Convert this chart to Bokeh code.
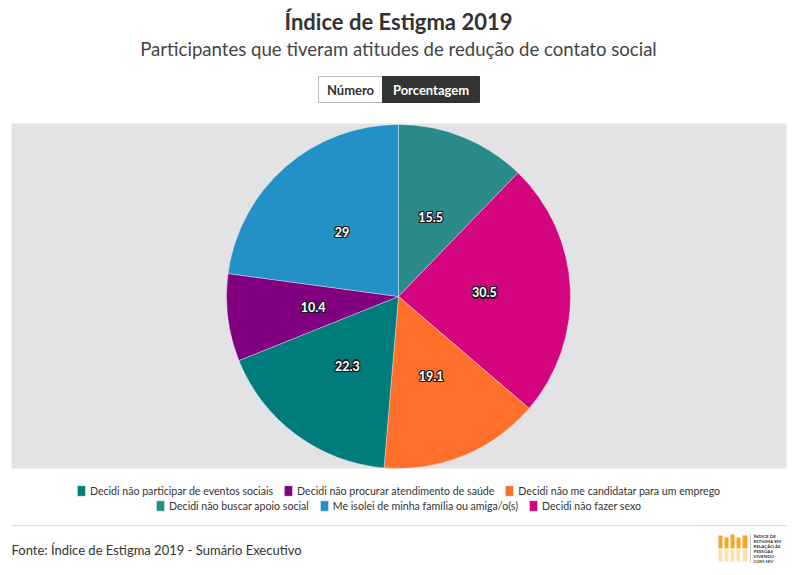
import math
from bokeh.plotting import figure
from bokeh.models import Range1d, ColumnDataSource, Legend, LegendItem
from bokeh.core.properties import value
from bokeh.embed import file_html
from bokeh.resources import INLINE

# ---------------- data ----------------
categories = [
    "Decidi não buscar apoio social",
    "Decidi não fazer sexo",
    "Decidi não me candidatar para um emprego",
    "Decidi não participar de eventos sociais",
    "Decidi não procurar atendimento de saúde",
    "Me isolei de minha família ou amiga/o(s)",
]
values = [15.5, 30.5, 19.1, 22.3, 10.4, 29]
colors = ["#2a8a8a", "#d4047f", "#fd6f2b", "#007c7c", "#800080", "#2390c6"]
legend_row1 = [3, 4, 2]
legend_row2 = [0, 5, 1]

title = "Índice de Estigma 2019"
subtitle = "Participantes que tiveram atitudes de redução de contato social"
buttons = ["Número", "Porcentagem"]
source_text = "Fonte: Índice de Estigma 2019 - Sumário Executivo"

# ---------------- layout (pixels) ----------------
W, H = 796, 575
FONT = "Lato"


def Y(py):
    return H - py


cx, cy, R = 398, 296, 172

p = figure(width=W, height=H, output_backend="svg", toolbar_location=None,
           x_range=Range1d(0, W), y_range=Range1d(0, H),
           min_border=0, outline_line_color=None, background_fill_color="white",
           border_fill_color="white")
p.axis.visible = False
p.grid.visible = False

# plot area background
p.quad(left=[11], right=[786], bottom=[Y(468)], top=[Y(123)],
       fill_color="#e3e3e5", line_color=None)

# pie
total = sum(values)
starts, ends, lx, ly, labels = [], [], [], [], []
cum = 0.0
for v in values:
    a0 = math.pi / 2 - 2 * math.pi * cum / total
    cum += v
    a1 = math.pi / 2 - 2 * math.pi * cum / total
    starts.append(a0)
    ends.append(a1)
    mid = (a0 + a1) / 2
    lx.append(cx + 0.5 * R * math.cos(mid))
    ly.append(Y(cy) + 0.5 * R * math.sin(mid))
    labels.append(("%g" % v))

src = ColumnDataSource(dict(start=starts, end=ends, color=colors, cat=categories,
                            x=[cx] * len(values), y=[Y(cy)] * len(values),
                            lx=lx, ly=ly, label=labels))
wr = p.wedge(x="x", y="y", radius=R, start_angle="start", end_angle="end",
             direction="clock", fill_color="color", line_color="white",
             line_width=0.6, line_alpha=0.6, source=src)

# label halo (dark) then white text
label_style = dict(text_align="center", text_baseline="middle",
                   text_font=value(FONT), text_font_style="bold", text_font_size="12.5px")
for dx, dy in ((-1.2, 0), (1.2, 0), (0, -1.2), (0, 1.2),
               (-1, -1), (1, 1), (-1, 1), (1, -1)):
    p.text(x=[v + dx for v in lx], y=[v + dy for v in ly], text=labels,
           text_color="#1a1a1a", **label_style)
p.text(x="lx", y="ly", text="label", source=src, text_color="white", **label_style)

# title and subtitle
p.text(x=[W / 2], y=[Y(21)], text=[title], text_align="center", text_baseline="middle",
       text_font=value(FONT), text_font_style="bold", text_font_size="22px",
       text_color="#333333")
p.text(x=[W / 2], y=[Y(48)], text=[subtitle], text_align="center", text_baseline="middle",
       text_font=value(FONT), text_font_size="18.6px", text_color="#444444")

# buttons
p.quad(left=[318], right=[382], bottom=[Y(102)], top=[Y(76)], fill_color="white",
       line_color="#bbbbbb", line_width=1)
p.quad(left=[382], right=[479], bottom=[Y(102)], top=[Y(76)], fill_color="#333333",
       line_color="#333333", line_width=1)
p.text(x=[350, 430.5], y=[Y(89), Y(89)], text=buttons, text_align="center",
       text_baseline="middle", text_font=value(FONT), text_font_style="bold",
       text_font_size="13px", text_color=["#333333", "white"])

# legends (two centered rows)
for row, margin in ((legend_row1, 78), (legend_row2, 63)):
    items = [LegendItem(label=categories[i], renderers=[wr], index=i) for i in row]
    lg = Legend(items=items, orientation="horizontal", location="bottom_center",
                margin=margin, padding=0, spacing=10, label_standoff=4,
                glyph_width=10, glyph_height=13, label_height=13,
                label_text_font=FONT, label_text_font_size="10.6px",
                label_text_color="#333333", background_fill_alpha=0,
                border_line_alpha=0)
    p.add_layout(lg)

# footer
p.line(x=[11, 786], y=[Y(525), Y(525)], line_color="#dddddd", line_width=1)
p.text(x=[11], y=[Y(549)], text=[source_text], text_align="left", text_baseline="middle",
       text_font=value(FONT), text_font_size="13px", text_color="#333333")

# logo
p.quad(left=[718, 724, 730, 736, 742], right=[722, 728, 734, 740, 747],
       bottom=[Y(548)] * 5, top=[Y(535), Y(537), Y(534), Y(537), Y(535)],
       fill_color="#f5a623", line_color=None)
p.quad(left=[718, 724, 730, 736, 742], right=[722, 728, 734, 740, 747],
       bottom=[Y(561)] * 5, top=[Y(549)] * 5,
       fill_color="#f5a623", fill_alpha=0.35, line_color=None)
p.line(x=[750, 750], y=[Y(533), Y(562)], line_color="#999999", line_width=0.5)
p.text(x=[753] * 6, y=[Y(536), Y(541), Y(546), Y(551), Y(556), Y(561)],
       text=["ÍNDICE DE", "ESTIGMA EM", "RELAÇÃO ÀS", "PESSOAS", "VIVENDO", "COM HIV"],
       text_align="left", text_baseline="middle", text_font=value(FONT),
       text_font_style="bold", text_font_size="4.5px", text_color="#333333")

open("out.html", "w").write(file_html(p, INLINE))
